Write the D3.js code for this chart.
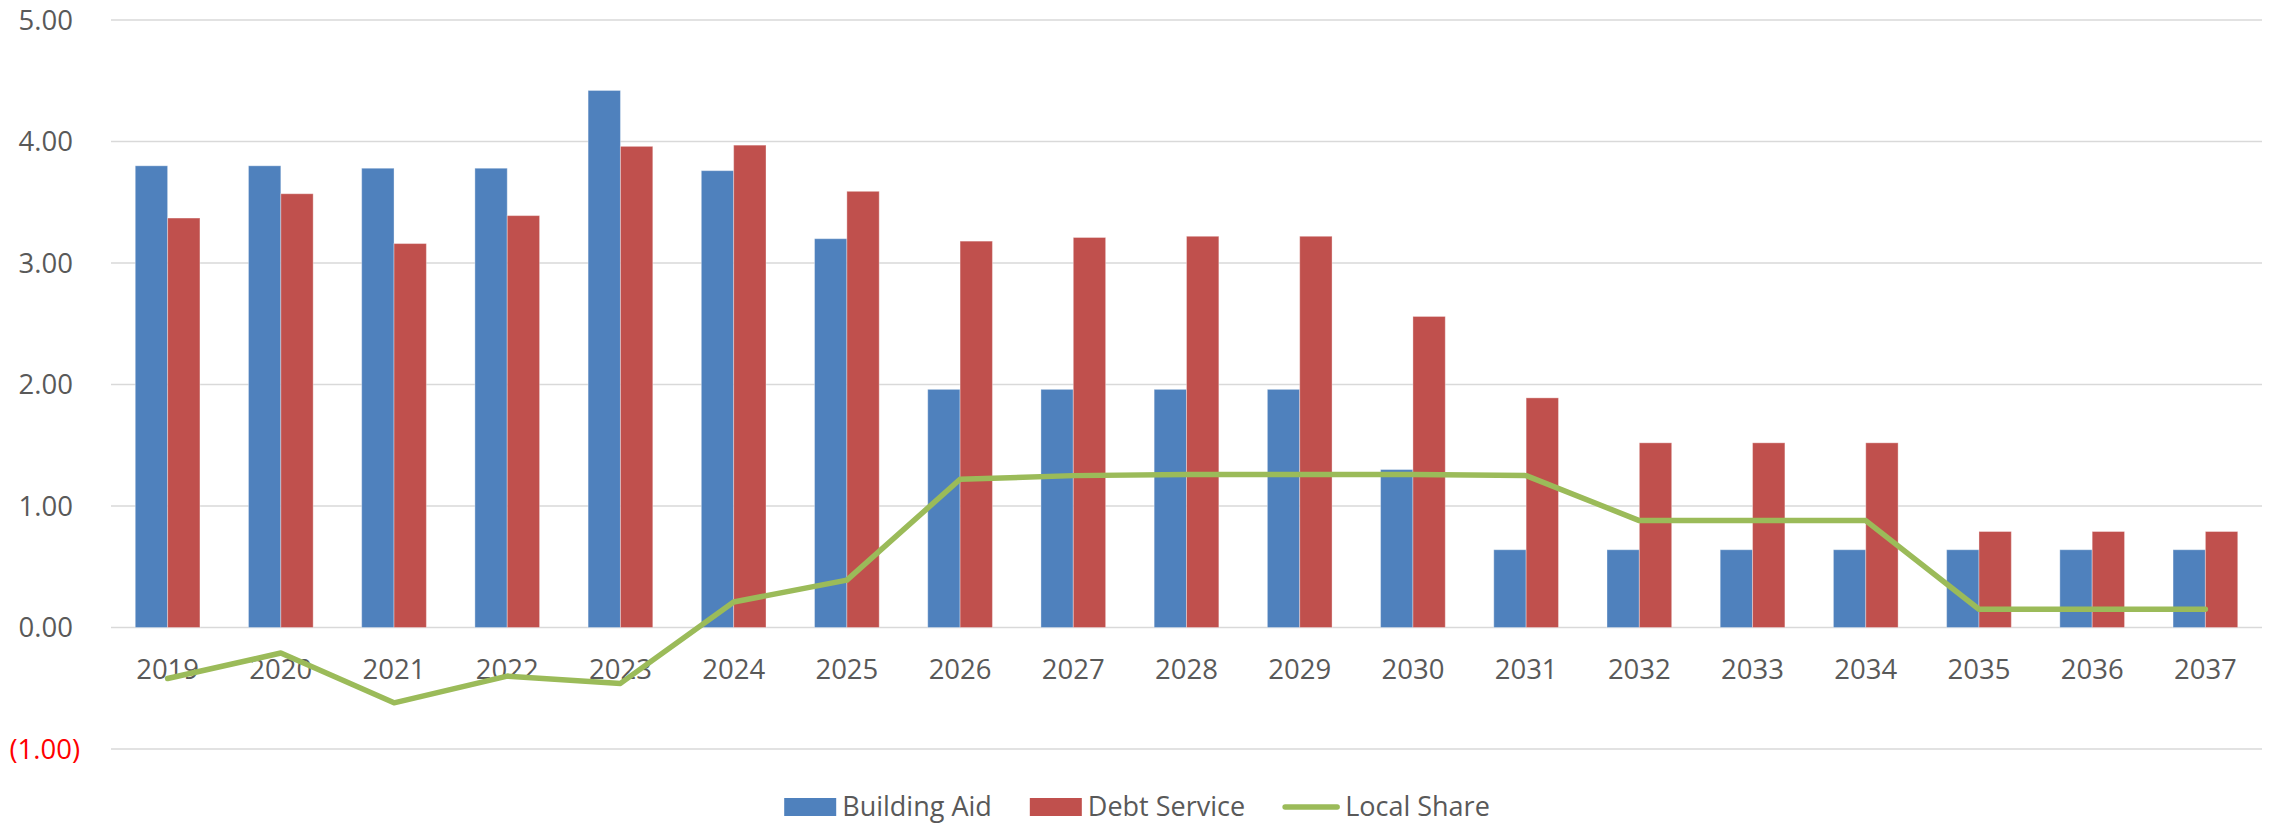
<!DOCTYPE html>
<html>
<head>
<meta charset="utf-8">
<script src="https://cdn.jsdelivr.net/npm/d3@7"></script>
<style>
  html, body { margin: 0; padding: 0; background: #ffffff; }
  svg { display: block; }
  text { font-family: "Open Sans", "Noto Sans", sans-serif; }
</style>
</head>
<body>
<svg id="chart" width="2274" height="825"></svg>
<script>
const years = ["2019","2020","2021","2022","2023","2024","2025","2026","2027","2028","2029","2030","2031","2032","2033","2034","2035","2036","2037"];
const buildingAid = [3.80,3.80,3.78,3.78,4.42,3.76,3.20,1.96,1.96,1.96,1.96,1.30,0.64,0.64,0.64,0.64,0.64,0.64,0.64];
const debtService = [3.37,3.57,3.16,3.39,3.96,3.97,3.59,3.18,3.21,3.22,3.22,2.56,1.89,1.52,1.52,1.52,0.79,0.79,0.79];
const localShare  = [-0.42,-0.21,-0.62,-0.40,-0.46,0.21,0.39,1.22,1.25,1.26,1.26,1.26,1.25,0.88,0.88,0.88,0.15,0.15,0.15];
const yTicks = [-1,0,1,2,3,4,5];
const yTickLabels = ["(1.00)","0.00","1.00","2.00","3.00","4.00","5.00"];
const seriesNames = ["Building Aid","Debt Service","Local Share"];

const colors = { ba: "#4F81BD", ds: "#C0504D", ls: "#9BBB59" };
const textColor = "#595959";

const svg = d3.select("#chart");
const W = 2274, H = 825;
const plot = { left: 111, right: 2262, top: 20, bottom: 749 };

const x = d3.scaleBand().domain(years).range([plot.left, plot.right]).paddingInner(0).paddingOuter(0);
const y = d3.scaleLinear().domain([-1, 5]).range([plot.bottom, plot.top]);

// gridlines
svg.append("g").selectAll("line").data(yTicks).join("line")
  .attr("x1", plot.left).attr("x2", plot.right)
  .attr("y1", d => y(d)).attr("y2", d => y(d))
  .attr("stroke", "#d9d9d9").attr("stroke-width", 1.6);

// y axis labels
const yAxis = d3.axisLeft(y).tickValues(yTicks).tickSize(0).tickPadding(0)
  .tickFormat(d => yTickLabels[yTicks.indexOf(d)]);
const yg = svg.append("g").attr("transform", `translate(${73},0)`).call(yAxis);
yg.select(".domain").remove();
yg.selectAll("text")
  .attr("font-family", "'Open Sans', sans-serif")
  .attr("font-size", 27.5)
  .attr("fill", d => d < 0 ? "#FF0000" : textColor)
  .attr("dy", "0.34em");
yg.selectAll(".tick").filter(d => d < 0).select("text").attr("x", 7);

// bars
const bw = x.bandwidth() / 3.5;
const bars = svg.append("g");
bars.selectAll("rect.ba").data(years).join("rect").attr("class", "ba")
  .attr("x", d => x(d) + x.bandwidth() / 2 - bw)
  .attr("width", bw)
  .attr("y", (d, i) => y(Math.max(0, buildingAid[i])))
  .attr("height", (d, i) => Math.abs(y(buildingAid[i]) - y(0)))
  .attr("fill", colors.ba)
  .attr("stroke", "rgba(255,255,255,0.35)").attr("stroke-width", 1);
bars.selectAll("rect.ds").data(years).join("rect").attr("class", "ds")
  .attr("x", d => x(d) + x.bandwidth() / 2)
  .attr("width", bw)
  .attr("y", (d, i) => y(Math.max(0, debtService[i])))
  .attr("height", (d, i) => Math.abs(y(debtService[i]) - y(0)))
  .attr("fill", colors.ds)
  .attr("stroke", "rgba(255,255,255,0.35)").attr("stroke-width", 1);

// x labels
const xAxis = d3.axisBottom(x).tickSize(0).tickPadding(0);
const xg = svg.append("g").attr("transform", `translate(0,${y(0)})`).call(xAxis);
xg.select(".domain").remove();
xg.selectAll("text")
  .attr("font-family", "'Open Sans', sans-serif")
  .attr("font-size", 27.5)
  .attr("fill", textColor)
  .attr("dy", null)
  .attr("y", 51);

// local share line
const line = d3.line()
  .x((d, i) => x(years[i]) + x.bandwidth() / 2)
  .y(d => y(d));
svg.append("path").datum(localShare)
  .attr("d", line)
  .attr("fill", "none")
  .attr("stroke", colors.ls)
  .attr("stroke-width", 5.5)
  .attr("stroke-linejoin", "round")
  .attr("stroke-linecap", "round");

// legend
const legend = svg.append("g");
const items = [
  { name: seriesNames[0], type: "rect", color: colors.ba },
  { name: seriesNames[1], type: "rect", color: colors.ds },
  { name: seriesNames[2], type: "line", color: colors.ls }
];
const swW = 52, swGap = 6, itemGap = 38, legY = 807;
const gItems = items.map(it => {
  const g = legend.append("g");
  if (it.type === "rect") {
    g.append("rect").attr("x", 0).attr("y", legY - 9).attr("width", swW).attr("height", 18).attr("fill", it.color);
  } else {
    g.append("line").attr("x1", 2).attr("x2", swW + 2).attr("y1", legY).attr("y2", legY)
      .attr("stroke", it.color).attr("stroke-width", 5.5).attr("stroke-linecap", "round");
  }
  const tx = swW + swGap + (it.type === "line" ? 4 : 0);
  const t = g.append("text").attr("x", tx).attr("y", legY + 9)
    .attr("font-family", "'Open Sans', sans-serif")
    .attr("font-size", 27).attr("fill", textColor).text(it.name);
  const w = tx + t.node().getComputedTextLength();
  return { g, w };
});
const total = gItems.reduce((s, d) => s + d.w, 0) + itemGap * (gItems.length - 1);
let cursor = W / 2 - total / 2;
gItems.forEach(d => { d.g.attr("transform", `translate(${cursor},0)`); cursor += d.w + itemGap; });
</script>
</body>
</html>
